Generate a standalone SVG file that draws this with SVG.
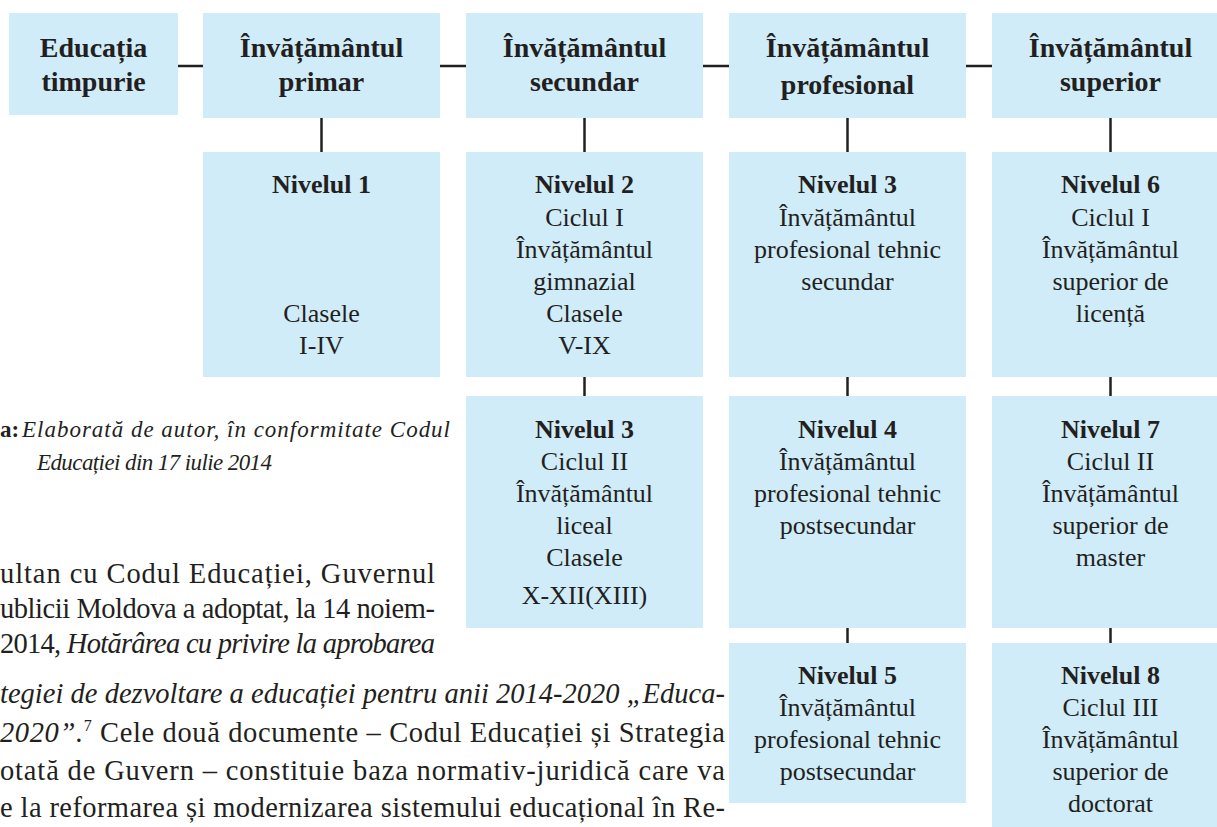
<svg xmlns="http://www.w3.org/2000/svg" width="1217" height="827" viewBox="0 0 1217 827">
<style>
.box{fill:#d0ecf9}
.t{font-family:"Liberation Serif",serif;fill:#231f20;text-anchor:middle}
.h{font-size:28px;font-weight:bold}
.b{font-size:26px}
.bb{font-size:26px;font-weight:bold}
.p{font-family:"Liberation Serif",serif;fill:#231f20;font-size:28.5px}
.c{font-family:"Liberation Serif",serif;fill:#231f20;font-size:23px}
.i{font-style:italic}
.conn line{stroke:#231f20;stroke-width:2.5}
</style>
<rect width="1217" height="827" fill="#ffffff"/>
<g class="conn" id="connectors">
<line x1="178" y1="66" x2="203" y2="66"/>
<line x1="440" y1="66" x2="466" y2="66"/>
<line x1="703" y1="66" x2="729" y2="66"/>
<line x1="966" y1="66" x2="992" y2="66"/>
<line x1="321.5" y1="118" x2="321.5" y2="152"/>
<line x1="584.5" y1="118" x2="584.5" y2="152"/>
<line x1="847.5" y1="118" x2="847.5" y2="152"/>
<line x1="1110.5" y1="118" x2="1110.5" y2="152"/>
<line x1="584.5" y1="377" x2="584.5" y2="396"/>
<line x1="847.5" y1="377" x2="847.5" y2="396"/>
<line x1="1110.5" y1="377" x2="1110.5" y2="396"/>
<line x1="847.5" y1="628" x2="847.5" y2="643"/>
<line x1="1110.5" y1="628" x2="1110.5" y2="643"/>
</g>
<g id="n-timpurie">
<rect class="box" x="9" y="13" width="169" height="102"/>
<text class="t h" x="93.5" y="57">Educația</text>
<text class="t h" x="93.5" y="91">timpurie</text>
</g>
<g id="n-primar">
<rect class="box" x="203" y="13" width="237" height="105"/>
<text class="t h" x="321.5" y="57">Învățământul</text>
<text class="t h" x="321.5" y="91">primar</text>
</g>
<g id="n-secundar">
<rect class="box" x="466" y="13" width="237" height="105"/>
<text class="t h" x="584.5" y="57">Învățământul</text>
<text class="t h" x="584.5" y="91">secundar</text>
</g>
<g id="n-profesional">
<rect class="box" x="729" y="13" width="237" height="105"/>
<text class="t h" x="847.5" y="57">Învățământul</text>
<text class="t h" x="847.5" y="94">profesional</text>
</g>
<g id="n-superior">
<rect class="box" x="992" y="13" width="237" height="105"/>
<text class="t h" x="1110.5" y="57">Învățământul</text>
<text class="t h" x="1110.5" y="91">superior</text>
</g>
<g id="n-nivel1">
<rect class="box" x="203" y="152" width="237" height="225"/>
<text class="t bb" x="321.5" y="193">Nivelul 1</text>
<text class="t b" x="321.5" y="322">Clasele</text>
<text class="t b" x="321.5" y="354">I-IV</text>
</g>
<g id="n-nivel2">
<rect class="box" x="466" y="152" width="237" height="225"/>
<text class="t bb" x="584.5" y="193">Nivelul 2</text>
<text class="t b" x="584.5" y="226">Ciclul I</text>
<text class="t b" x="584.5" y="258">Învățământul</text>
<text class="t b" x="584.5" y="290">gimnazial</text>
<text class="t b" x="584.5" y="322">Clasele</text>
<text class="t b" x="584.5" y="354">V-IX</text>
</g>
<g id="n-nivel3-prof">
<rect class="box" x="729" y="152" width="237" height="225"/>
<text class="t bb" x="847.5" y="193">Nivelul 3</text>
<text class="t b" x="847.5" y="226">Învățământul</text>
<text class="t b" x="847.5" y="258">profesional tehnic</text>
<text class="t b" x="847.5" y="290">secundar</text>
</g>
<g id="n-nivel6">
<rect class="box" x="992" y="152" width="237" height="225"/>
<text class="t bb" x="1110.5" y="193">Nivelul 6</text>
<text class="t b" x="1110.5" y="226">Ciclul I</text>
<text class="t b" x="1110.5" y="258">Învățământul</text>
<text class="t b" x="1110.5" y="290">superior de</text>
<text class="t b" x="1110.5" y="322">licență</text>
</g>
<g id="n-nivel3-liceal">
<rect class="box" x="466" y="396" width="237" height="232"/>
<text class="t bb" x="584.5" y="438">Nivelul 3</text>
<text class="t b" x="584.5" y="470">Ciclul II</text>
<text class="t b" x="584.5" y="502">Învățământul</text>
<text class="t b" x="584.5" y="534">liceal</text>
<text class="t b" x="584.5" y="566">Clasele</text>
<text class="t b" x="584.5" y="604">X-XII(XIII)</text>
</g>
<g id="n-nivel4">
<rect class="box" x="729" y="396" width="237" height="232"/>
<text class="t bb" x="847.5" y="438">Nivelul 4</text>
<text class="t b" x="847.5" y="470">Învățământul</text>
<text class="t b" x="847.5" y="502">profesional tehnic</text>
<text class="t b" x="847.5" y="534">postsecundar</text>
</g>
<g id="n-nivel7">
<rect class="box" x="992" y="396" width="237" height="232"/>
<text class="t bb" x="1110.5" y="438">Nivelul 7</text>
<text class="t b" x="1110.5" y="470">Ciclul II</text>
<text class="t b" x="1110.5" y="502">Învățământul</text>
<text class="t b" x="1110.5" y="534">superior de</text>
<text class="t b" x="1110.5" y="566">master</text>
</g>
<g id="n-nivel5">
<rect class="box" x="729" y="643" width="237" height="160"/>
<text class="t bb" x="847.5" y="684">Nivelul 5</text>
<text class="t b" x="847.5" y="716">Învățământul</text>
<text class="t b" x="847.5" y="748">profesional tehnic</text>
<text class="t b" x="847.5" y="780">postsecundar</text>
</g>
<g id="n-nivel8">
<rect class="box" x="992" y="643" width="237" height="200"/>
<text class="t bb" x="1110.5" y="684">Nivelul 8</text>
<text class="t b" x="1110.5" y="716">Ciclul III</text>
<text class="t b" x="1110.5" y="748">Învățământul</text>
<text class="t b" x="1110.5" y="780">superior de</text>
<text class="t b" x="1110.5" y="812">doctorat</text>
</g>
<g id="caption">
<text class="c" x="0" y="437" font-weight="bold">a:</text>
<text class="c i" x="22" y="437" textLength="428" lengthAdjust="spacing">Elaborată de autor, în conformitate Codul</text>
<text class="c i" x="37" y="470" textLength="235" lengthAdjust="spacing">Educației din 17 iulie 2014</text>
</g>
<g id="paragraph">
<text class="p" x="0" y="583" textLength="435" lengthAdjust="spacing">ultan cu Codul Educației, Guvernul</text>
<text class="p" x="0" y="618" textLength="435" lengthAdjust="spacing">ublicii Moldova a adoptat, la 14 noiem-</text>
<text class="p" x="0" y="653" textLength="435" lengthAdjust="spacing">2014, <tspan class="i">Hotărârea cu privire la aprobarea</tspan></text>
<text class="p i" x="0" y="703" textLength="725" lengthAdjust="spacing">tegiei de dezvoltare a educației pentru anii 2014-2020 „Educa-</text>
<text class="p" x="0" y="742" textLength="725" lengthAdjust="spacing"><tspan class="i">2020”.</tspan><tspan font-size="16" dy="-11">7</tspan><tspan dy="11"> Cele două documente – Codul Educației și Strategia</tspan></text>
<text class="p" x="0" y="780" textLength="725" lengthAdjust="spacing">otată de Guvern – constituie baza normativ-juridică care va</text>
<text class="p" x="0" y="817" textLength="725" lengthAdjust="spacing">e la reformarea și modernizarea sistemului educațional în Re-</text>
</g>
</svg>
